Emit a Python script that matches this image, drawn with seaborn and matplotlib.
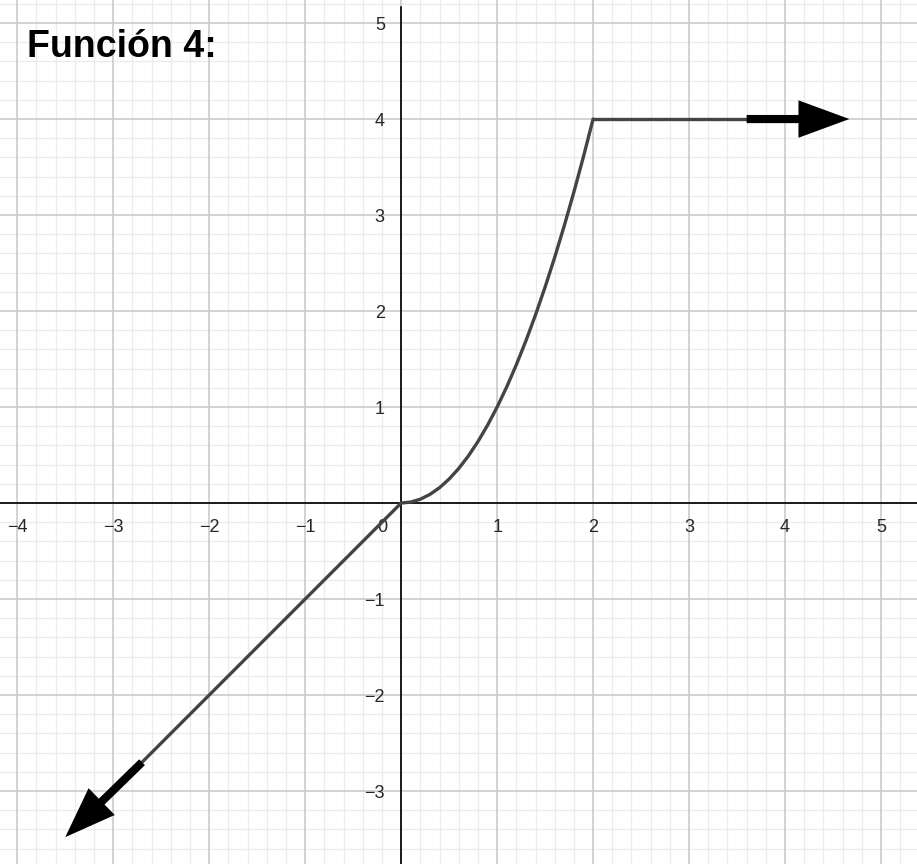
import numpy as np
import pandas as pd
import matplotlib
matplotlib.use("Agg")
import matplotlib.pyplot as plt
import seaborn as sns

# ---- data ----
left_x = [-2.7, 0.0]
left_y = [-2.7, 0.0]
par_x = [0.0, 0.1, 0.2, 0.3, 0.4, 0.5, 0.6, 0.7, 0.8, 0.9, 1.0,
         1.1, 1.2, 1.3, 1.4, 1.5, 1.6, 1.7, 1.8, 1.9, 2.0]
par_y = [0.0, 0.01, 0.04, 0.09, 0.16, 0.25, 0.36, 0.49, 0.64, 0.81, 1.0,
         1.21, 1.44, 1.69, 1.96, 2.25, 2.56, 2.89, 3.24, 3.61, 4.0]
flat_x = [2.0, 3.6]
flat_y = [4.0, 4.0]
arrow_right = (3.6, 4.0, 1.07, 0.0)
arrow_left = (-2.7, -2.7, -0.8, -0.78)
x_ticks = [-4, -3, -2, -1, 1, 2, 3, 4, 5]
y_ticks = [-3, -2, -1, 1, 2, 3, 4, 5]
title = "Función 4:"

sns.set_style("white")
plt.rcParams['font.family'] = ['Liberation Sans', 'DejaVu Sans']

fig = plt.figure(figsize=(9.17, 8.64), dpi=100)
ax = fig.add_axes([0, 0, 1, 1])
ax.set_xlim(-4.18, 5.375)
ax.set_ylim(-3.76, 5.24)
for s in ax.spines.values():
    s.set_visible(False)
ax.set_xticks([])
ax.set_yticks([])

# grid
for v in np.arange(-4.2, 5.41, 0.2):
    if abs(v - round(v)) > 1e-6:
        ax.axvline(v, color="#ebebeb", lw=0.9, zorder=0)
for v in np.arange(-3.8, 5.25, 0.2):
    if abs(v - round(v)) > 1e-6:
        ax.axhline(v, color="#ebebeb", lw=0.9, zorder=0)
for v in range(-4, 6):
    ax.axvline(v, color="#c6c6c6", lw=1.1, zorder=1)
for v in range(-3, 6):
    ax.axhline(v, color="#c6c6c6", lw=1.1, zorder=1)

ax.axhline(0, color="#1a1a1a", lw=1.4, zorder=2)
ax.axvline(0, ymax=0.992, color="#1a1a1a", lw=1.4, zorder=2)

# tick labels
for t in x_ticks:
    ax.text(t, -0.25, str(t).replace("-", "\u2212"), ha="center", va="center",
            fontsize=13, color="#262626", zorder=3)
for t in y_ticks:
    ax.text(-0.17, t - 0.03, str(t).replace("-", "\u2212"), ha="right", va="center",
            fontsize=13, color="#262626", zorder=3)
ax.text(-0.14, -0.25, "0", ha="right", va="center", fontsize=13, color="#262626", zorder=3)

# function
col = "#444444"
for xs, ys in [(left_x, left_y), (par_x, par_y), (flat_x, flat_y)]:
    df = pd.DataFrame({"x": xs, "y": ys})
    sns.lineplot(data=df, x="x", y="y", ax=ax, color=col, lw=2.4, sort=False,
                 estimator=None, zorder=4, solid_capstyle="round")
ax.set_xlabel("")
ax.set_ylabel("")

for (x0, y0, dx, dy) in [arrow_right, arrow_left]:
    ax.arrow(x0, y0, dx, dy, width=0.085, head_width=0.39, head_length=0.53,
             length_includes_head=True, color="black", lw=0, zorder=5)

ax.text(-3.9, 4.75, title, fontsize=27, fontweight="bold", color="black",
        ha="left", va="center", zorder=6)

fig.savefig("out.png", dpi=100)
